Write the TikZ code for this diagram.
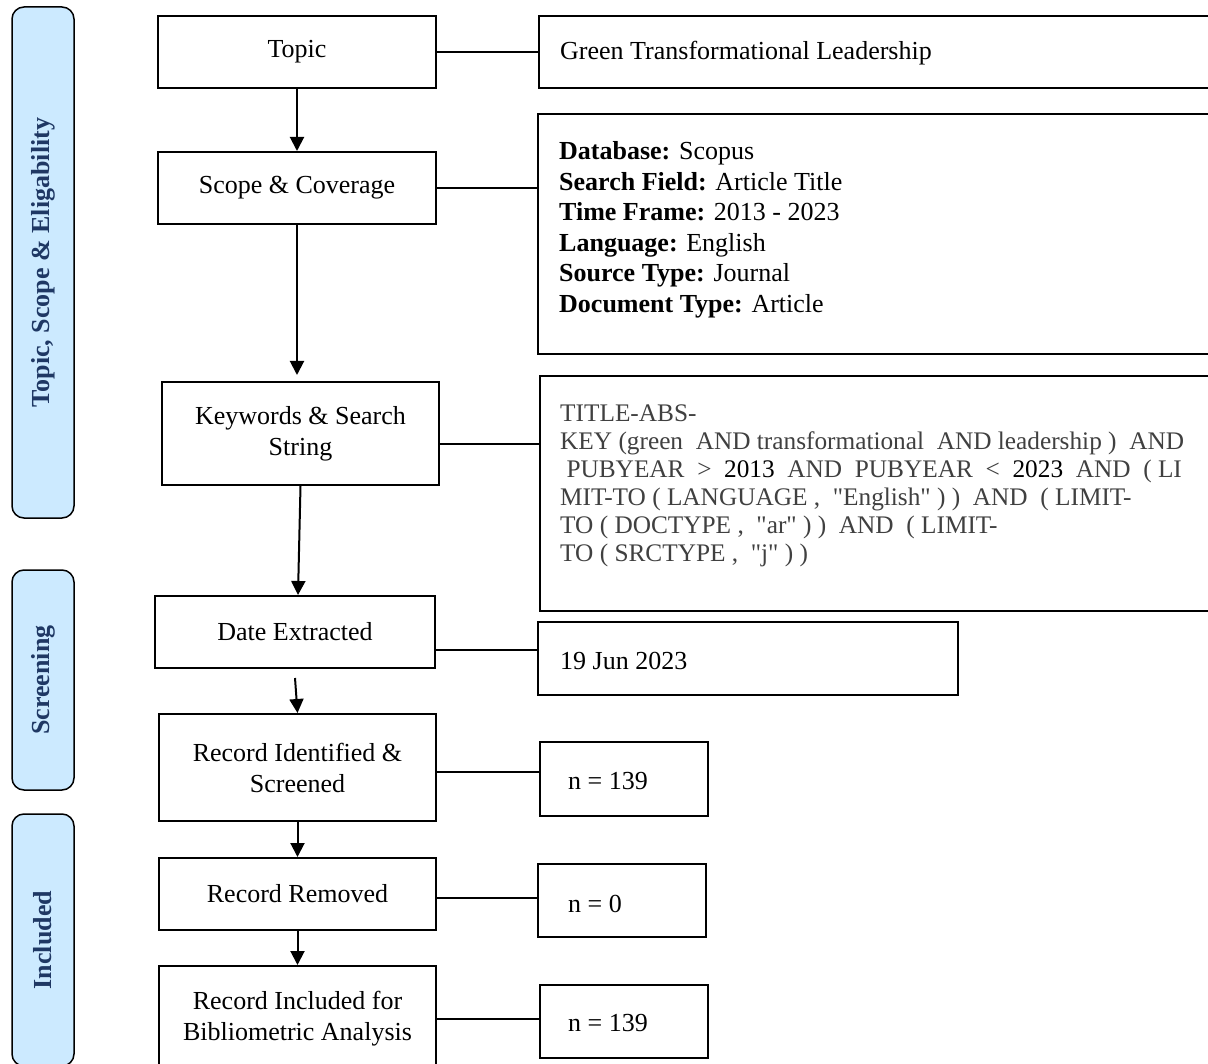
\documentclass[tikz,border=0pt]{standalone}
\usepackage{fontspec}
\setmainfont{Liberation Serif}
\newfontfamily\plainserif{Liberation Serif}[Ligatures=TeXOff]
\usetikzlibrary{arrows.meta}
\definecolor{barfill}{RGB}{204,234,255}
\definecolor{navy}{RGB}{31,56,100}
\definecolor{strgray}{RGB}{64,64,64}
\begin{document}
\begin{tikzpicture}[x=1pt,y=-1pt,
  every node/.style={font=\fontsize{26}{31}\selectfont},
  mainbox/.style={draw, line width=2pt, align=center, inner sep=0pt},
  infobox/.style={draw, line width=2pt, inner sep=0pt},
  txt/.style={anchor=west, align=left, inner sep=0pt},
  bar/.style={draw, line width=1.5pt, fill=barfill, rounded corners=12pt, rotate=90,
    text=navy, font=\fontsize{26}{31}\selectfont\bfseries, inner sep=0pt},
  link/.style={line width=2pt},
  flow/.style={line width=2pt, -{Triangle[width=14pt,length=14pt]}},
]
\useasboundingbox (0,0) rectangle (1208,1064);
\clip (0,0) rectangle (1208,1064);
\fill[white] (0,0) rectangle (1208,1064);

% side bars
\node[bar, minimum width=511pt, minimum height=62pt] (bar1) at (43,262.5) {Topic, Scope \& Eligability};
\node[bar, minimum width=220pt, minimum height=62pt] (bar2) at (43,680) {Screening};
\node[bar, minimum width=252pt, minimum height=62pt] (bar3) at (43,940) {Included};

% main column
\node[mainbox, minimum width=278pt, minimum height=72pt] (topic) at (297,52) {Topic};
\node[mainbox, minimum width=278pt, minimum height=72pt] (scope) at (297,188) {Scope \& Coverage};
\node[mainbox, minimum width=277pt, minimum height=103pt] (kw) at (300.5,433.5) {Keywords \& Search\\String};
\node[mainbox, minimum width=280pt, minimum height=72pt] (date) at (295,632) {Date Extracted};
\node[mainbox, minimum width=277pt, minimum height=107pt] (recid) at (297.5,767.5) {Record Identified \&\\Screened};
\node[mainbox, minimum width=277pt, minimum height=72pt] (recrem) at (297.5,894) {Record Removed};
\node[mainbox, minimum width=277pt, minimum height=106pt] (recinc) at (297.5,1019) {Record Included for\\Bibliometric Analysis};

% right column boxes
\node[infobox, minimum width=681pt, minimum height=72pt] (green) at (879.5,52) {};
\node[txt] (greent) at (560,53) {Green Transformational Leadership};

\node[infobox, minimum width=682pt, minimum height=240pt] (db) at (879,234) {};
\node[txt, font=\fontsize{26}{30.5}\selectfont] (dbt) at (559,230) {\textbf{Database:} Scopus\\\textbf{Search Field:} Article Title\\\textbf{Time Frame:} 2013 - 2023\\\textbf{Language:} English\\\textbf{Source Type:} Journal\\\textbf{Document Type:} Article};

\node[infobox, minimum width=680pt, minimum height=235pt] (srch) at (880,493.5) {};
\node[txt, text=strgray, font=\plainserif\fontsize{25.3}{28}\selectfont] (srcht) at (560,486) {TITLE-ABS-\\KEY (green\ \ AND transformational\ \ AND leadership )\ \ AND\\\ PUBYEAR\ \ >\ \ \textcolor{black}{2013}\ \ AND\ \ PUBYEAR\ \ <\ \ \textcolor{black}{2023}\ \ AND\ \ ( LI\\MIT-TO ( LANGUAGE ,\ \ "English" ) )\ \ AND\ \ ( LIMIT-\\TO ( DOCTYPE ,\ \ "ar" ) )\ \ AND\ \ ( LIMIT-\\TO ( SRCTYPE ,\ \ "j" ) )};

\node[infobox, minimum width=420pt, minimum height=73pt] (jun) at (748,658.5) {};
\node[txt] (junt) at (560,661) {19 Jun 2023};

\node[infobox, minimum width=168pt, minimum height=74pt] (n1) at (624,779) {};
\node[txt] (n1t) at (568,781) {n = 139};

\node[infobox, minimum width=168pt, minimum height=73pt] (n0) at (622,900.5) {};
\node[txt] (n0t) at (568,904) {n = 0};

\node[infobox, minimum width=168pt, minimum height=73pt] (n2) at (624,1021.5) {};
\node[txt] (n2t) at (568,1023) {n = 139};

% connectors
\draw[link] (topic.east) -- (topic.east -| green.west);
\draw[link] (scope.east) -- (scope.east -| db.west);
\draw[link] ([yshift=-10.5pt]kw.east) -- ([yshift=-10.5pt]kw.east -| srch.west);
\draw[link] ([yshift=-18pt]date.east) -- ([yshift=-18pt]date.east -| jun.west);
\draw[link] ([yshift=-4.5pt]recid.east) -- ([yshift=-4.5pt]recid.east -| n1.west);
\draw[link] ([yshift=-4pt]recrem.east) -- ([yshift=-4pt]recrem.east -| n0.west);
\draw[link] (recinc.east) -- (recinc.east -| n2.west);

% flow arrows
\draw[flow] (topic.south) -- (scope.north);
\draw[flow] (scope.south) -- ([yshift=6pt]scope.south |- kw.north);
\draw[flow] (kw.south) -- ([xshift=3pt]date.north);
\draw[flow] ([yshift=-9pt]date.south) -- (recid.north);
\draw[flow] (recid.south) -- (recrem.north);
\draw[flow] (recrem.south) -- (recinc.north);
\end{tikzpicture}
\end{document}
